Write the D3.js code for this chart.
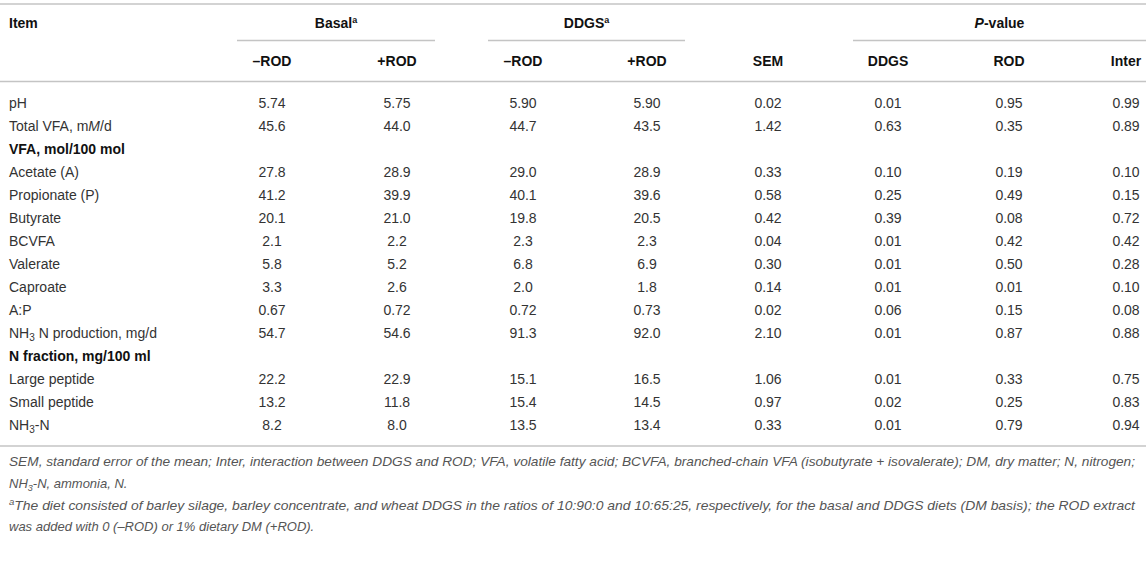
<html>
<head>
<meta charset="utf-8">
<title>Rumen fermentation table</title>
<style>
  body { margin: 0; background: #fff; }
  text { font-family: "Liberation Sans", Arial, Helvetica, sans-serif; }
</style>
</head>
<body>
<svg id="container" width="1146" height="585"></svg>
<script src="https://d3js.org/d3.v7.min.js"></script>
<script>
let items = ["pH", "Total VFA", "VFA, mol/100 mol", "Acetate (A)", "Propionate (P)", "Butyrate",
  "BCVFA", "Valerate", "Caproate", "A:P", "NH3 N production, mg/d", "N fraction, mg/100 ml",
  "Large peptide", "Small peptide", "NH3-N"]
let sectionRows = ["VFA, mol/100 mol", "N fraction, mg/100 ml"]

let basalMinus = ["5.74", "45.6", null, "27.8", "41.2", "20.1", "2.1", "5.8", "3.3", "0.67", "54.7", null, "22.2", "13.2", "8.2"]
let basalPlus  = ["5.75", "44.0", null, "28.9", "39.9", "21.0", "2.2", "5.2", "2.6", "0.72", "54.6", null, "22.9", "11.8", "8.0"]
let ddgsMinus  = ["5.90", "44.7", null, "29.0", "40.1", "19.8", "2.3", "6.8", "2.0", "0.72", "91.3", null, "15.1", "15.4", "13.5"]
let ddgsPlus   = ["5.90", "43.5", null, "28.9", "39.6", "20.5", "2.3", "6.9", "1.8", "0.73", "92.0", null, "16.5", "14.5", "13.4"]
let sem        = ["0.02", "1.42", null, "0.33", "0.58", "0.42", "0.04", "0.30", "0.14", "0.02", "2.10", null, "1.06", "0.97", "0.33"]
let pDDGS      = ["0.01", "0.63", null, "0.10", "0.25", "0.39", "0.01", "0.01", "0.01", "0.06", "0.01", null, "0.01", "0.02", "0.01"]
let pROD       = ["0.95", "0.35", null, "0.19", "0.49", "0.08", "0.42", "0.50", "0.01", "0.15", "0.87", null, "0.33", "0.25", "0.79"]
let pInter     = ["0.99", "0.89", null, "0.10", "0.15", "0.72", "0.42", "0.28", "0.10", "0.08", "0.88", null, "0.75", "0.83", "0.94"]

let columns = ["bm", "bp", "dm", "dp", "sem", "pd", "pr", "pi"]
let columnLabels = ["\u2013ROD", "+ROD", "\u2013ROD", "+ROD", "SEM", "DDGS", "ROD", "Inter"]
let seriesList = [basalMinus, basalPlus, ddgsMinus, ddgsPlus, sem, pDDGS, pROD, pInter]
let groups = [
  { label: "Basal", sup: "a", from: "bm", to: "bp" },
  { label: "DDGS", sup: "a", from: "dm", to: "dp" },
  { label: "P-value", sup: null, from: "pd", to: "pi" }
]

// ---- layout ----
let width = 1146
let svg = d3.select("#container")
let ink = "#333"
let rule = "#c4c4c4"

let x = d3.scaleOrdinal()
  .domain(columns)
  .range([272, 397, 523, 647, 768, 888, 1009, 1126])
let y = d3.scalePoint()
  .domain(d3.range(items.length))
  .range([108, 430])

function hline(y0, x0, x1) {
  svg.append("line")
    .attr("x1", x0).attr("x2", x1)
    .attr("y1", y0).attr("y2", y0)
    .attr("stroke", rule).attr("stroke-width", 1.6)
}

hline(4, 0, width)
hline(81.5, 0, width)
hline(446, 0, width)

// group header + underline
groups.forEach(g => {
  let x0 = x(g.from) - 35
  let x1 = Math.min(x(g.to) + 38, width)
  hline(40.5, x0, x1)
  let t = svg.append("text")
    .attr("x", (x0 + x1) / 2).attr("y", 28)
    .attr("text-anchor", "middle")
    .attr("font-size", 14).attr("font-weight", "bold").attr("fill", "#111")
  if (g.label == "P-value") {
    t.append("tspan").attr("font-style", "italic").text("P")
    t.append("tspan").text("-value")
  } else {
    t.append("tspan").text(g.label)
    t.append("tspan").attr("font-size", 9).attr("dy", -5).text(g.sup)
  }
})

svg.append("text")
  .attr("x", 9).attr("y", 28)
  .attr("font-size", 14).attr("font-weight", "bold").attr("fill", "#111")
  .text("Item")

svg.selectAll(".colhead")
  .data(columns)
  .enter()
  .append("text")
  .attr("class", "colhead")
  .attr("x", d => x(d)).attr("y", 66)
  .attr("text-anchor", "middle")
  .attr("font-size", 14).attr("font-weight", "bold").attr("fill", "#111")
  .text((d, i) => columnLabels[i])

// item labels
let labels = svg.selectAll(".item")
  .data(items)
  .enter()
  .append("text")
  .attr("class", "item")
  .attr("x", 9).attr("y", (d, i) => y(i))
  .attr("font-size", 14)
  .attr("font-weight", d => sectionRows.includes(d) ? "bold" : null)
  .attr("fill", d => sectionRows.includes(d) ? "#111" : ink)

labels.each(function(d) {
  let t = d3.select(this)
  if (d == "Total VFA") {
    t.append("tspan").text("Total VFA, m")
    t.append("tspan").attr("font-style", "italic").text("M")
    t.append("tspan").text("/d")
  } else if (d.startsWith("NH3")) {
    t.append("tspan").text("NH")
    t.append("tspan").attr("font-size", 10).attr("dy", 3).text("3")
    t.append("tspan").attr("dy", -3).text(d.slice(3))
  } else {
    t.text(d)
  }
})

// values
seriesList.forEach((series, c) => {
  let cells = series.map((v, i) => ({ v: v, row: i })).filter(d => d.v != null)
  svg.selectAll(".v" + c)
    .data(cells)
    .enter()
    .append("text")
    .attr("class", "v" + c)
    .attr("x", x(columns[c]))
    .attr("y", d => y(d.row))
    .attr("text-anchor", "middle")
    .attr("font-size", 14).attr("fill", ink)
    .text(d => d.v)
})

// footnotes
let foot = svg.append("g")
  .attr("font-size", 13).attr("font-style", "italic").attr("fill", "#555")

foot.append("text").attr("x", 9).attr("y", 466)
  .attr("textLength", 1126).attr("lengthAdjust", "spacingAndGlyphs")
  .text("SEM, standard error of the mean; Inter, interaction between DDGS and ROD; VFA, volatile fatty acid; BCVFA, branched-chain VFA (isobutyrate + isovalerate); DM, dry matter; N, nitrogen;")

let f2 = foot.append("text").attr("x", 9).attr("y", 488)
f2.append("tspan").text("NH")
f2.append("tspan").attr("font-size", 9).attr("dy", 3).text("3")
f2.append("tspan").attr("dy", -3).text("-N, ammonia, N.")

let f3 = foot.append("text").attr("x", 9).attr("y", 510)
  .attr("textLength", 1126).attr("lengthAdjust", "spacingAndGlyphs")
f3.append("tspan").attr("font-size", 9).attr("dy", -5).text("a")
f3.append("tspan").attr("dy", 5).text("The diet consisted of barley silage, barley concentrate, and wheat DDGS in the ratios of 10:90:0 and 10:65:25, respectively, for the basal and DDGS diets (DM basis); the ROD extract")

foot.append("text").attr("x", 9).attr("y", 531)
  .text("was added with 0 (\u2013ROD) or 1% dietary DM (+ROD).")
</script>
</body>
</html>
